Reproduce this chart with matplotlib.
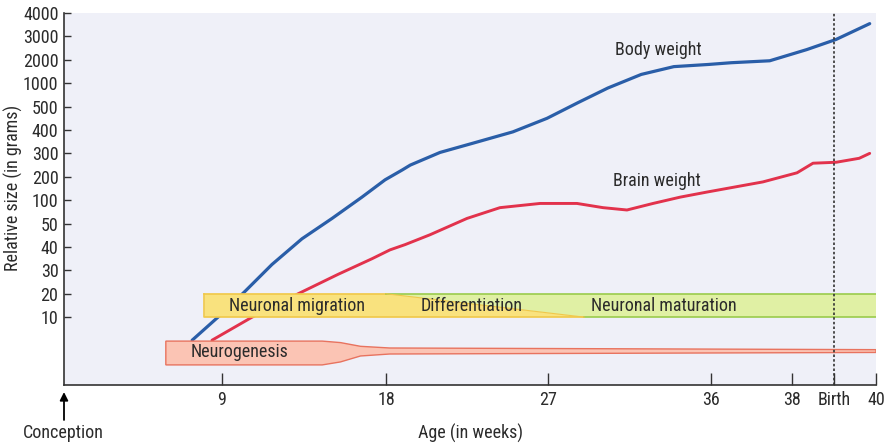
import numpy as np
import matplotlib.pyplot as plt
import matplotlib.transforms as mtransforms

plt.rcParams['font.family'] = ['Roboto Condensed', 'DejaVu Sans']
plt.rcParams['font.stretch'] = 'condensed'

# axis breakpoints (the original chart uses uneven scales)
week_ticks = [0, 9, 18, 27, 36, 38, 40]
week_pos = [0, 158, 322, 484, 647, 728, 812]
gram_ticks = [10, 20, 30, 40, 50, 100, 200, 300, 400, 500, 1000, 2000, 3000, 4000]

# curves (weeks, grams)
body_weeks = [7.3, 8.77, 10.26, 11.74, 13.39, 15.04, 16.68, 17.95, 18.9, 19.35,
              21.0, 22.85, 25.05, 26.95, 28.65, 30.3, 32.15, 33.95, 35.85, 36.5,
              37.45, 38.35, 39.05, 39.85]
body_grams = [6.6, 10, 21, 32.5, 43.5, 61, 113, 187, 229, 250,
              304, 344, 392, 450, 583, 896, 1375, 1708, 1800, 1875,
              1958, 2435, 2870, 3545]
brain_weeks = [8.43, 10.65, 13.18, 15.37, 17.24, 18.22, 19.06, 20.44, 22.5, 24.33,
               26.56, 28.6, 30.04, 31.36, 32.8, 34.3, 35.8, 37.28, 38.12, 38.5,
               39.05, 39.6, 39.85]
brain_grams = [6.6, 10, 20, 28.3, 35, 38.75, 41, 45.2, 61, 84,
               93, 93, 84, 79, 93, 113, 135, 178, 217, 258,
               262, 279, 300]

# developmental stages (weeks)
migration_start, migration_end, migration_fade = 8, 18, 29
maturation_end = 40
neuro_weeks = [5.8, 14.5, 15.5, 16.6, 18.2, 40]
birth_week = 39

x_labels = ['9', '18', '27', '36', '38', 'Birth', '40']
x_label_pos = [9, 18, 27, 36, 38, birth_week, 40]

gram_vals = [0] + gram_ticks
gram_pos = [-2.9] + list(range(len(gram_ticks)))


def fx(x):
    return np.interp(x, week_ticks, week_pos)


def ix(p):
    return np.interp(p, week_pos, week_ticks)


def fy(y):
    return np.interp(y, gram_vals, gram_pos)


def iy(p):
    return np.interp(p, gram_pos, gram_vals)


txt = '#2b2b2b'
fs = 13
fig = plt.figure(figsize=(8.86, 4.48), dpi=100)
ax = fig.add_axes([64/886, 63/448, 812/886, 372/448])
ax.set_facecolor('#eff0f8')
ax.set_xscale('function', functions=(fx, ix))
ax.set_yscale('function', functions=(fy, iy))
ax.set_xlim(0, 40)
ax.set_ylim(0, 4000)

for s in ['top', 'right']:
    ax.spines[s].set_visible(False)
for s in ['left', 'bottom']:
    ax.spines[s].set_color('#333333')
    ax.spines[s].set_linewidth(1.2)

ax.set_yticks(gram_ticks)
ax.set_yticklabels([str(v) for v in gram_ticks])
ax.set_xticks(x_label_pos)
ax.set_xticklabels(x_labels)
ax.minorticks_off()
ax.tick_params(axis='y', direction='in', length=5, width=1, color='#333333',
               labelsize=fs, labelcolor=txt, pad=4)
ax.tick_params(axis='x', direction='in', length=9, width=1, color='#333333',
               labelsize=fs, labelcolor=txt, pad=4)

# stage bands
ax.fill([migration_start, migration_end, migration_fade, migration_start],
        [20, 20, 10, 10], facecolor='#f9e27e', edgecolor='none', zorder=2)
ax.fill([migration_end, maturation_end, maturation_end, migration_fade],
        [20, 20, 10, 10], facecolor='#e0f0a4', edgecolor='none', zorder=2)
ax.plot([migration_start, migration_end], [20, 20], color='#f0c84a', lw=1.2, zorder=3)
ax.plot([migration_start, migration_start, migration_fade], [20, 10, 10],
        color='#f0c84a', lw=1.2, zorder=3)
ax.plot([migration_end, maturation_end], [20, 20], color='#9acb4c', lw=1.2, zorder=3)
ax.plot([migration_fade, maturation_end], [10, 10], color='#9acb4c', lw=1.2, zorder=3)
ax.plot([migration_end, migration_fade], [20, 10], color='#f0c84a', lw=0.8, zorder=3)

tr = mtransforms.blended_transform_factory(ax.transData, ax.transAxes)
top = [0.118, 0.118, 0.114, 0.104, 0.0995, 0.095]
bot = [0.054, 0.054, 0.062, 0.078, 0.0833, 0.0875]
ax.fill(neuro_weeks + neuro_weeks[::-1], top + bot[::-1], facecolor='#fbc4b4',
        edgecolor='#e8735f', lw=1.0, transform=tr, zorder=2)

ax.plot(body_weeks, body_grams, color='#2a5ea8', lw=2.3, zorder=1, solid_capstyle='round')
ax.plot(brain_weeks, brain_grams, color='#e2324c', lw=2.1, zorder=1, solid_capstyle='round')

ax.axvline(birth_week, color='#333333', lw=1.2, ls=(0, (1.5, 1.3)), zorder=5)

ax.text(9.4, 14.6, 'Neuronal migration', fontsize=fs, color=txt, va='center', zorder=6)
ax.text(19.9, 14.6, 'Differentiation', fontsize=fs, color=txt, va='center', zorder=6)
ax.text(29.4, 14.6, 'Neuronal maturation', fontsize=fs, color=txt, va='center', zorder=6)
ax.text(7.2, 0.09, 'Neurogenesis', fontsize=fs, color=txt, va='center',
        transform=tr, zorder=6)
ax.text(30.7, 2430, 'Body weight', fontsize=fs, color=txt, va='center')
ax.text(30.6, 183, 'Brain weight', fontsize=fs, color=txt, va='center')

ax.set_ylabel('Relative size (in grams)', fontsize=fs, color=txt)
ax.yaxis.set_label_coords(-0.05, 0.53)

ax.annotate('', xy=(0, -0.019), xycoords=ax.get_xaxis_transform(),
            xytext=(0, -0.094), textcoords=ax.get_xaxis_transform(),
            arrowprops=dict(arrowstyle='-|>', color='black', lw=1.3,
                            mutation_scale=12, shrinkA=0, shrinkB=0),
            annotation_clip=False)
fig.text(63/886, 15/448, 'Conception', fontsize=fs, color=txt, ha='center', va='center')
fig.text(470/886, 15/448, 'Age (in weeks)', fontsize=fs, color=txt, ha='center', va='center')

fig.savefig('out.png', dpi=100)
